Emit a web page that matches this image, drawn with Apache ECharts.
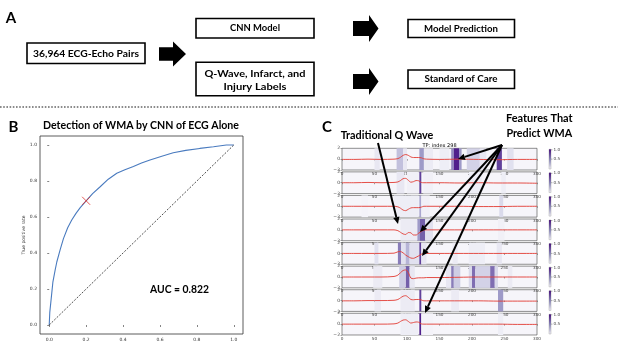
<!DOCTYPE html>
<html><head><meta charset="utf-8">
<script src="https://cdn.jsdelivr.net/npm/echarts@6/dist/echarts.min.js"></script>
<style>html,body{margin:0;padding:0;background:#fff}#c{width:618px;height:342px}</style>
</head><body><div id="c"></div>
<script>
// ---------- Panel B data ----------
const rocFpr = [0, 0.003, 0.009, 0.014, 0.02, 0.032, 0.041, 0.059, 0.077, 0.1, 0.122, 0.145, 0.168, 0.2, 0.235, 0.276, 0.32, 0.366, 0.41, 0.456, 0.5, 0.546, 0.61, 0.672, 0.74, 0.816, 0.89, 0.96, 1];
const rocTpr = [0, 0.07, 0.13, 0.18, 0.24, 0.305, 0.35, 0.417, 0.48, 0.54, 0.583, 0.62, 0.652, 0.69, 0.73, 0.768, 0.81, 0.843, 0.862, 0.88, 0.9, 0.917, 0.938, 0.957, 0.97, 0.981, 0.99, 1.0, 1.0];
const chanceLine = [[0, 0], [1, 1]];
const operatingPoint = [0.2, 0.69];
const rocTicks = [0, 0.2, 0.4, 0.6, 0.8, 1.0];
const aucText = 'AUC = 0.822';

// ---------- Panel C data ----------
const traceX = [0, 20, 40, 60, 80, 86, 90, 94, 98, 102, 106, 110, 114, 118, 122, 126, 130, 150, 180, 210, 240, 270, 300];
const trace1 = [-0.05, -0.05, 0, -0.05, 0, 0.1, 0.35, 0.7, 0.85, 0.7, 0.4, 0.3, 0.3, 0.3, 0.25, 0.05, 0, -0.05, 0, -0.05, -0.1, -0.05, -0.05];
const trace2 = [0, 0, 0.05, 0, 0.05, 0.15, 0.4, 0.75, 0.8, 0.45, 0.1, 0.2, 0.4, 0.35, 0.05, 0, 0, 0, -0.05, 0, -0.05, -0.05, -0.1];
const trace3 = [0, 0, 0, 0, 0, -0.1, -0.35, -0.7, -0.8, -0.55, -0.3, -0.25, -0.25, -0.25, -0.15, 0, 0, 0, 0, -0.05, -0.05, 0, 0];
const trace4 = [0, 0, 0, 0, 0, -0.15, -0.45, -0.75, -0.85, -0.5, -0.55, -0.95, -0.95, -0.6, -0.3, -0.05, 0, 0, 0, 0, 0, 0, 0];
const trace5 = [0, 0, 0, 0, 0.05, 0.3, 0.35, 0.1, -0.3, -0.6, -0.85, -0.9, -0.7, -0.45, -0.15, 0, 0, 0, 0, 0, 0, 0, 0];
const trace6 = [0, 0, 0, 0, 0.1, 0.35, 0.8, 1.2, 1.3, 0.8, -0.2, -0.3, -0.2, -0.15, -0.15, -0.15, -0.1, -0.1, -0.05, 0, 0, 0, 0];
const trace7 = [-0.05, -0.05, 0, 0, 0.05, 0.2, 0.5, 0.8, 0.9, 0.6, 0.2, 0.15, 0.2, 0.2, 0.1, -0.05, -0.05, -0.05, -0.05, -0.05, -0.1, -0.1, -0.1];
const trace8 = [0, 0, 0, 0, 0.05, 0.2, 0.5, 0.75, 0.8, 0.5, 0.2, 0.3, 0.4, 0.35, 0.05, 0, 0, 0, 0, 0, 0, -0.05, -0.05];

// attention bands: [start sample, end sample, intensity 0..1]
const bands1 = [[50,58,0.15],[84,94,0.35],[94,100,0.15],[119,126,0.5],[126,140,0.12],[150,165,0.1],[168,172,0.55],[172,180,0.9],[180,184,0.5],[192,212,0.28],[212,222,0.15],[238,246,0.8],[254,264,0.2]];
const bands2 = [[84,96,0.15],[100,118,0.08],[119,122,0.8],[125,140,0.08],[195,215,0.1],[245,252,0.1]];
const bands3 = [[30,40,0.06],[80,118,0.1],[119,122,0.45],[122,135,0.08],[242,248,0.25]];
const bands4 = [[90,116,0.12],[116,120,0.5],[120,128,0.7],[128,140,0.2],[240,250,0.08]];
const bands5 = [[50,56,0.2],[86,91,0.6],[91,98,0.2],[98,104,0.4],[104,119,0.2],[119,122,0.8],[122,130,0.15],[170,178,0.12],[195,220,0.1],[238,246,0.15]];
const bands6 = [[48,62,0.12],[88,97,0.3],[98,104,0.7],[104,112,0.15],[160,168,0.15],[168,172,0.6],[172,182,0.3],[195,200,0.25],[200,205,0.65],[205,228,0.28],[228,235,0.65],[235,240,0.25],[255,262,0.12]];
const bands7 = [[50,60,0.12],[90,112,0.12],[119,122,0.8],[168,180,0.12],[240,248,0.5]];
const bands8 = [[90,117,0.1],[119,122,0.9],[122,140,0.06],[240,248,0.1]];
const sampleTicks = [0, 50, 100, 150, 200, 250, 300];
const colorbarTicks = ['1.0', '0.5'];
const panelCTitle = 'TP: index 298';

const traces = [trace1, trace2, trace3, trace4, trace5, trace6, trace7, trace8];
const bands = [bands1, bands2, bands3, bands4, bands5, bands6, bands7, bands8];

// Purples colormap
const stops = [[0,[252,251,253]],[0.25,[218,218,235]],[0.5,[158,154,200]],[0.75,[106,81,163]],[1,[63,0,125]]];
function purple(v){
  for (let i=1;i<stops.length;i++){
    if (v<=stops[i][0]){
      const a=stops[i-1], b=stops[i], t=(v-a[0])/(b[0]-a[0]);
      const c=a[1].map((x,k)=>Math.round(x+(b[1][k]-x)*t));
      return 'rgb('+c.join(',')+')';
    }
  }
  return 'rgb(63,0,125)';
}

const tickFont = 'DejaVu Sans';
const boldFont = "Lato, 'Open Sans', sans-serif";

const grids = [{left:40, top:136, width:203, height:198, show:true, borderColor:'#333', borderWidth:0.8, backgroundColor:'#fff'}];
const xAxes = [{gridIndex:0, type:'value', min:-0.05, max:1.05,
  axisLine:{show:false}, splitLine:{show:false},
  axisTick:{customValues:rocTicks, length:2, lineStyle:{color:'#333', width:0.6}},
  axisLabel:{customValues:rocTicks, fontSize:4.5, margin:3, color:'#333', fontFamily:tickFont, formatter:v=>v.toFixed(1)}}];
const yAxes = [{gridIndex:0, type:'value', min:-0.05, max:1.05,
  axisLine:{show:false}, splitLine:{show:false},
  name:'True positive rate', nameLocation:'middle', nameGap:12, nameTextStyle:{fontSize:4.5, color:'#333', fontFamily:tickFont},
  axisTick:{customValues:rocTicks, length:2, lineStyle:{color:'#333', width:0.6}},
  axisLabel:{customValues:rocTicks, fontSize:4.5, margin:3, color:'#333', fontFamily:tickFont, formatter:v=>v.toFixed(1)}}];
const series = [
  {type:'line', xAxisIndex:0, yAxisIndex:0, data:rocFpr.map((x,i)=>[x,rocTpr[i]]), showSymbol:false, lineStyle:{color:'#4a7bbf', width:1.1}, silent:true},
  {type:'line', xAxisIndex:0, yAxisIndex:0, data:chanceLine, showSymbol:false, lineStyle:{color:'#222', width:0.8, type:[2,1.5]}, silent:true},
  {type:'scatter', xAxisIndex:0, yAxisIndex:0, data:[operatingPoint], symbol:'path://M0,0L10,10M10,0L0,10', symbolSize:8, z:5,
   itemStyle:{color:'#e0302a', borderColor:'#e0302a', borderWidth:1}, silent:true}
];

const rowTop0 = 148.3, rowPitch = 23.57, rowH = 21.7;
for (let i=0;i<8;i++){
  const g = i+1;
  grids.push({left:342, top:rowTop0 + i*rowPitch, width:195, height:rowH, show:true, borderColor:'#444', borderWidth:0.6, backgroundColor:'#f6f5fa'});
  xAxes.push({gridIndex:g, type:'value', min:0, max:300, interval:50, axisLine:{show:false}, splitLine:{show:false},
    axisTick:{length:1.5, lineStyle:{color:'#444', width:0.5}},
    axisLabel:{fontSize:4.2, margin:1.5, color:'#444', fontFamily:tickFont, showMinLabel:true, showMaxLabel:true}});
  yAxes.push({gridIndex:g, type:'value', min:-2, max:2, interval:2, axisLine:{show:false}, splitLine:{show:false},
    axisTick:{length:1.5, lineStyle:{color:'#444', width:0.5}},
    axisLabel:{fontSize:4.5, margin:2, color:'#444', fontFamily:tickFont, showMinLabel:true, showMaxLabel:true, formatter:v=> v<0 ? '\u2212'+Math.abs(v) : String(v)}});
  series.push({type:'line', xAxisIndex:g, yAxisIndex:g, data:traceX.map((x,j)=>[x,traces[i][j]]), showSymbol:false, smooth:0.3,
    lineStyle:{color:'#e23b33', width:0.9}, silent:true, z:3,
    markArea:{silent:true, data:bands[i].map(b=>[{xAxis:b[0], itemStyle:{color:purple(b[2])}},{xAxis:b[1]}])}});
}

// ---------- annotation graphics ----------
const graphic = [];
const mctx = document.createElement('canvas').getContext('2d');
function txt(x,y,s,font,w){
  let sx = 1;
  if (w){ mctx.font = font; sx = w / mctx.measureText(s).width; }
  graphic.push({type:'text', x:x, y:y, scaleX:sx, z:100, style:{x:0, y:0, text:s, font:font, fill:'#000', textAlign:'center', textVerticalAlign:'middle', align:'center', verticalAlign:'middle'}});
}
function box(x,y,w,h){
  graphic.push({type:'rect', z:90, shape:{x:x,y:y,width:w,height:h}, style:{fill:'#fff', stroke:'#000', lineWidth:1.6}});
}
function blockArrow(x0,x1,x2,yc,sh,hh){
  graphic.push({type:'polygon', z:90, shape:{points:[[x0,yc-sh],[x1,yc-sh],[x1,yc-hh],[x2,yc],[x1,yc+hh],[x1,yc+sh],[x0,yc+sh]]}, style:{fill:'#000'}});
}
function lineArrow(x0,y0,x1,y1){
  const dx=x1-x0, dy=y1-y0, L=Math.hypot(dx,dy), ux=dx/L, uy=dy/L, hl=7, hw=3.2;
  const bx=x1-ux*hl, by=y1-uy*hl;
  graphic.push({type:'line', z:110, shape:{x1:x0,y1:y0,x2:bx,y2:by}, style:{stroke:'#000', lineWidth:2}});
  graphic.push({type:'polygon', z:110, shape:{points:[[x1,y1],[bx-uy*hw,by+ux*hw],[bx+uy*hw,by-ux*hw]]}, style:{fill:'#000'}});
}
const fA = 'bold 9.5px '+boldFont;
// Panel A
txt(11,18,'A','bold 15px '+boldFont);
box(27,43,118,20.5); txt(86,53.5,'36,964 ECG-Echo Pairs',fA,106);
blockArrow(159,173,186,54,6.7,12.5);
box(196,18.5,118,19.5); txt(255,28.3,'CNN Model',fA,50);
box(196,62.3,118,33.4); txt(255,74,'Q-Wave, Infarct, and',fA,101); txt(255,87,'Injury Labels',fA,63);
blockArrow(353,369,378.5,28.5,7.6,13.5);
blockArrow(353,369,378.5,81.5,7.6,13.5);
box(408,19.5,106.5,18); txt(461,28.5,'Model Prediction',fA,74);
box(408,70,106.5,18.5); txt(461,79.3,'Standard of Care',fA,73);
graphic.push({type:'line', z:80, shape:{x1:0,y1:107,x2:618,y2:107}, style:{stroke:'#666', lineWidth:1.6, lineDash:[1.6,1.6]}});
// Panel B
txt(13.5,127,'B','bold 15px '+boldFont);
txt(141,125,'Detection of WMA by CNN of ECG Alone','bold 11.5px '+boldFont,196);
txt(179.5,289,aucText,'bold 12px '+boldFont,59);
// Panel C
txt(327,126.7,'C','bold 15px '+boldFont);
txt(387,135,'Traditional Q Wave','bold 11px '+boldFont,92.7);
txt(539.3,118,'Features That','bold 11px '+boldFont,66.7);
txt(539.3,133,'Predict WMA','bold 11px '+boldFont,65.7);
txt(439.5,145.5,panelCTitle,'5px '+tickFont);
// colorbars
for (let i=0;i<8;i++){
  const t = rowTop0 + i*rowPitch + 1, h = rowH - 2;
  graphic.push({type:'rect', z:60, shape:{x:549,y:t,width:2,height:h},
    style:{fill:new echarts.graphic.LinearGradient(0,0,0,1,[{offset:0,color:'#3f007d'},{offset:0.5,color:'#8a87bd'},{offset:1,color:'#fbfaff'}]), stroke:'#777', lineWidth:0.3}});
  graphic.push({type:'line', z:60, shape:{x1:551,y1:t+0.5,x2:552.5,y2:t+0.5}, style:{stroke:'#444', lineWidth:0.4}});
  graphic.push({type:'line', z:60, shape:{x1:551,y1:t+h/2,x2:552.5,y2:t+h/2}, style:{stroke:'#444', lineWidth:0.4}});
  graphic.push({type:'text', z:60, x:553.5, y:t+0.5, style:{text:colorbarTicks[0], font:'4.2px '+tickFont, fill:'#444', textVerticalAlign:'middle', verticalAlign:'middle'}});
  graphic.push({type:'text', z:60, x:553.5, y:t+h/2, style:{text:colorbarTicks[1], font:'4.2px '+tickFont, fill:'#444', textVerticalAlign:'middle', verticalAlign:'middle'}});
}
// annotation arrows
lineArrow(378,143,398,224);
lineArrow(502,145,458,159);
lineArrow(502,145,420,232);
lineArrow(502,145,422,256);
lineArrow(502,145,425,313);

const chart = echarts.init(document.getElementById('c'), null, {renderer:'canvas'});
chart.setOption({animation:false, backgroundColor:'#fff', grid:grids, xAxis:xAxes, yAxis:yAxes, series:series, graphic:graphic});
</script></body></html>
